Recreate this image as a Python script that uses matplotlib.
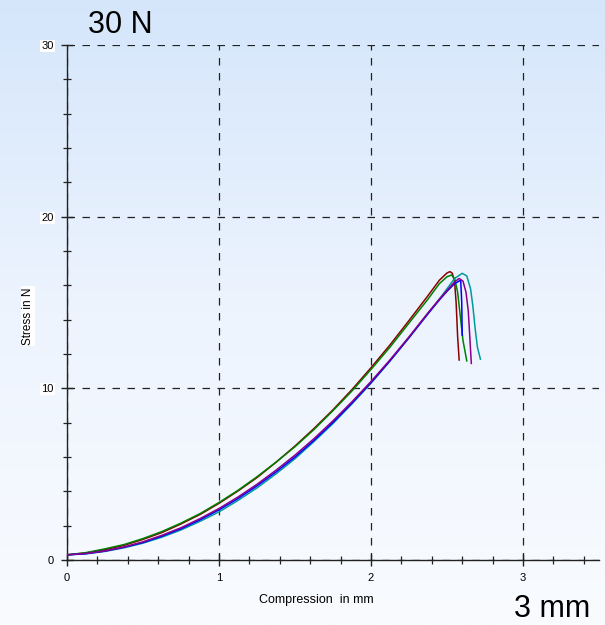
import numpy as np
import matplotlib
matplotlib.use("Agg")
import matplotlib.pyplot as plt
from matplotlib.colors import LinearSegmentedColormap

plt.rcParams['font.family'] = ['Liberation Sans', 'DejaVu Sans']

# ---- data ----
base_x = [0.0, 0.125, 0.25, 0.375, 0.5, 0.625, 0.75, 0.875, 1.0, 1.125, 1.25, 1.375,
          1.5, 1.625, 1.75, 1.875, 2.0, 2.125, 2.25, 2.375]

red_x = base_x + [2.45, 2.5, 2.52, 2.535, 2.55, 2.56, 2.57, 2.58]
red_y = [0.3, 0.41, 0.6, 0.85, 1.2, 1.6, 2.1, 2.65, 3.3, 4.02, 4.8, 5.69,
         6.64, 7.66, 8.75, 9.93, 11.2, 12.53, 13.95, 15.4,
         16.3, 16.72, 16.8, 16.7, 16.2, 15.0, 13.0, 11.65]

green_x = base_x + [2.45, 2.5, 2.53, 2.55, 2.57, 2.59, 2.605, 2.63]
green_y = [0.3, 0.43, 0.65, 0.9, 1.25, 1.66, 2.15, 2.7, 3.35, 4.06, 4.85, 5.7,
           6.6, 7.6, 8.7, 9.85, 11.1, 12.4, 13.8, 15.2,
           16.1, 16.5, 16.6, 16.4, 15.6, 14.0, 12.8, 11.6]

blue_x = base_x + [2.45, 2.5, 2.55, 2.59, 2.597, 2.6]
blue_y = [0.3, 0.37, 0.52, 0.74, 1.02, 1.39, 1.82, 2.34, 2.92, 3.58, 4.32, 5.13,
          6.0, 6.97, 8.02, 9.14, 10.33, 11.6, 12.95, 14.35,
          15.15, 15.65, 16.1, 16.3, 15.0, 13.1]

purple_x = base_x + [2.45, 2.5, 2.55, 2.58, 2.605, 2.625, 2.64, 2.65, 2.66]
purple_y = [0.3, 0.38, 0.53, 0.76, 1.06, 1.44, 1.88, 2.41, 3.0, 3.67, 4.41, 5.23,
            6.11, 7.07, 8.11, 9.22, 10.4, 11.66, 13.0, 14.4,
            15.2, 15.7, 16.2, 16.4, 16.25, 15.6, 14.5, 13.0, 11.45]

teal_x = base_x + [2.45, 2.5, 2.55, 2.6, 2.63, 2.655, 2.67, 2.685, 2.7, 2.72]
teal_y = [0.3, 0.36, 0.5, 0.71, 0.98, 1.33, 1.75, 2.25, 2.8, 3.47, 4.2, 5.02,
          5.9, 6.9, 7.95, 9.1, 10.3, 11.6, 12.95, 14.35,
          15.2, 15.8, 16.4, 16.7, 16.55, 15.8, 14.8, 13.5, 12.4, 11.7]

series = [
    (red_x, red_y, '#8B0000'),
    (green_x, green_y, '#008000'),
    (teal_x, teal_y, '#009A9A'),
    (blue_x, blue_y, '#0000FF'),
    (purple_x, purple_y, '#8B008B'),
]

xticks = [0, 1, 2, 3]
yticks = [0, 10, 20, 30]

# ---- figure ----
W, H = 605, 625
fig = plt.figure(figsize=(W / 100, H / 100), dpi=100)

# background gradient
bg = fig.add_axes([0, 0, 1, 1], zorder=0)
cmap = LinearSegmentedColormap.from_list('bg', ['#D5E6FB', '#EDF4FE', '#F9FBFF'])
grad = np.linspace(0, 1, 256).reshape(-1, 1)
bg.imshow(grad, aspect='auto', cmap=cmap, extent=[0, 1, 0, 1], origin='upper')
bg.set_axis_off()

ax = fig.add_axes([67 / W, 1 - 560 / H, 532 / W, 515 / H], zorder=1)
ax.patch.set_alpha(0)

for x, y, c in series:
    ax.plot(x, y, color=c, lw=1.1, zorder=3, solid_joinstyle='round')

ax.set_xlim(0, 3.5)
ax.set_ylim(0, 30)
ax.set_xticks(xticks)
ax.set_yticks(yticks)
ax.set_xticks(np.arange(0, 3.5, 0.2), minor=True)
ax.set_yticks(np.arange(0, 30.1, 2), minor=True)

ax.grid(True, which='major', linestyle=(0, (6, 6)), color='#222222', lw=0.9)
ax.set_axisbelow(True)

for s in ['top', 'right']:
    ax.spines[s].set_visible(False)
for s in ['left', 'bottom']:
    ax.spines[s].set_color('#222222')
    ax.spines[s].set_linewidth(1.0)

ax.tick_params(which='major', direction='inout', length=9, width=1.0, color='#222222',
               labelsize=8, pad=5)
ax.tick_params(which='minor', direction='inout', length=6, width=0.9, color='#222222')

for lab in ax.get_yticklabels()[1:]:
    lab.set_bbox(dict(facecolor='white', edgecolor='none', pad=0.8))

ax.set_xlabel('Compression  in mm', fontsize=9)
ax.xaxis.set_label_coords((316 - 67) / 532, -34 / 515)

fig.text(28 / W, 1 - 316 / H, 'Stress in N', rotation=90, fontsize=8.5,
         ha='center', va='center',
         bbox=dict(facecolor='white', edgecolor='none', pad=0.8))

fig.text(88 / W, 1 - 33 / H, '30 N', fontsize=22, ha='left', va='baseline')
fig.text(590 / W, 1 - 617 / H, '3 mm', fontsize=22, ha='right', va='baseline')

fig.savefig('out.png', dpi=100)
